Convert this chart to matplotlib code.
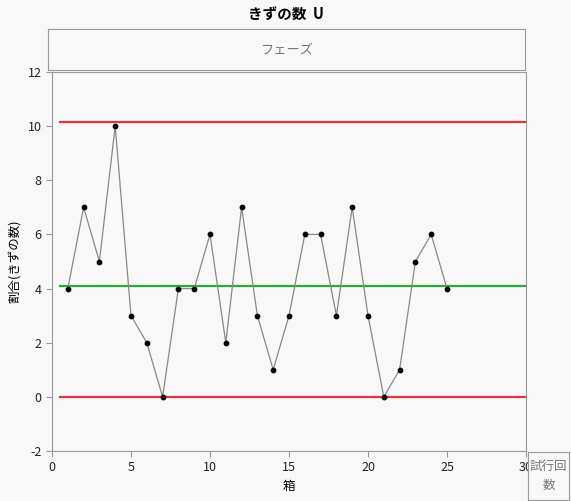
import numpy as np
import matplotlib.pyplot as plt

plt.rcParams['font.family'] = ['Noto Sans CJK JP', 'DejaVu Sans']
plt.rcParams['axes.unicode_minus'] = False

# データ
samples = np.arange(1, 26)
defects = [4, 7, 5, 10, 3, 2, 0, 4, 4, 6, 2, 7, 3, 1, 3, 6, 6, 3, 7, 3, 0, 1, 5, 6, 4]
center = np.mean(defects)
ucl = center + 3 * np.sqrt(center)
lcl = 0.0

bg = '#f8f8f8'
fig = plt.figure(figsize=(5.71, 5.01), dpi=100, facecolor=bg)

# タイトル
fig.text(0.5, 0.972, 'きずの数  U', ha='center', va='center', fontsize=10.5, fontweight='bold')

# フェーズの枠
hdr = fig.add_axes([48 / 571, 1 - 70 / 501, 477 / 571, 41 / 501], facecolor=bg)
hdr.set_xticks([])
hdr.set_yticks([])
for s in hdr.spines.values():
    s.set_color('#999999')
hdr.text(0.5, 0.5, 'フェーズ', ha='center', va='center', fontsize=9.5, color='#777777',
         transform=hdr.transAxes)

ax = fig.add_axes([52 / 571, 1 - 451 / 501, 474 / 571, 379 / 501], facecolor=bg)
ax.plot([0.5, 30], [ucl, ucl], color='#e8303f', lw=1.6, zorder=2)
ax.plot([0.5, 30], [lcl, lcl], color='#e8303f', lw=1.6, zorder=2)
ax.plot([0.5, 30], [center, center], color='#21b02f', lw=1.6, zorder=2)
ax.plot(samples, defects, color='#888888', lw=0.9, zorder=3)
ax.scatter(samples, defects, color='black', s=10, zorder=4)

ax.set_xlim(0, 30)
ax.set_ylim(-2, 12)
ax.set_xticks(np.arange(0, 31, 5))
ax.set_yticks(np.arange(-2, 13, 2))
ax.tick_params(labelsize=9, colors='#222222', length=4)
ax.tick_params(axis='both', color='#999999')
for s in ax.spines.values():
    s.set_color('#999999')
ax.set_xlabel('箱', fontsize=9)
ax.set_ylabel('割合(きずの数)', fontsize=9)

# 試行回数の枠
box = fig.add_axes([528 / 571, 1 - 500 / 501, 41 / 571, 48 / 501], facecolor=bg)
box.set_xticks([])
box.set_yticks([])
for s in box.spines.values():
    s.set_color('#999999')
box.text(0.5, 0.5, '試行回\n数', ha='center', va='center', fontsize=9, color='#777777',
         linespacing=1.6, transform=box.transAxes)

fig.savefig('out.png', dpi=100, facecolor=bg)
